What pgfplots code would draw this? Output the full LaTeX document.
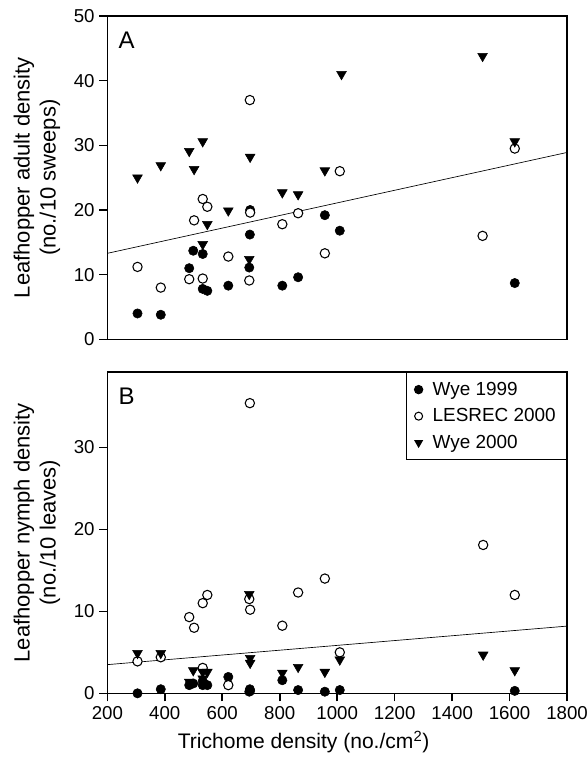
\documentclass[border=0pt]{standalone}
\usepackage{fontspec}
\setmainfont{Liberation Sans}
\usepackage{pgfplots}
\pgfplotsset{compat=1.18}

\pgfplotsset{
  leaf/.style={
    scale only axis,
    width=344.8pt,
    xmin=200, xmax=1800,
    axis line style={line width=1.2pt},
    tick style={line width=1.2pt, black},
    major tick length=6pt,
    tick align=outside,
    xtick pos=bottom, ytick pos=left,
    scaled ticks=false,
    /pgf/number format/assume math mode=true,
    /pgf/number format/1000 sep={},
    tick label style={font=\fontsize{14}{16}\selectfont},
    label style={font=\fontsize{16.5}{19.5}\selectfont},
    clip=false,
  },
  w99/.style={only marks, mark=*, mark size=3.5pt, mark options={draw=black, fill=black}},
  les/.style={only marks, mark=*, mark size=3.5pt, mark options={draw=black, fill=white, line width=0.8pt}},
  w00/.style={only marks, mark=triangle*, mark size=4.2pt, mark options={draw=black, fill=black, rotate=180}},
  fit/.style={black, line width=0.5pt, forget plot},
}

\begin{document}
\begin{tikzpicture}
\useasboundingbox (-80.5pt,-50pt) rectangle (359.8pt,520pt);

% panel A: adults
\begin{axis}[leaf,
  at={(0,265.5pt)}, anchor=south west,
  height=242.5pt,
  ymin=0, ymax=50,
  ytick={0,10,...,50},
  xtick=\empty,
  ylabel={Leafhopper adult density\\(no./10 sweeps)},
  ylabel style={align=center, at={(axis description cs:-0.153,0.5)}, anchor=center},
]
\addplot[w99] coordinates {
  (305,4.0) (386,3.8) (485,11.0) (499,13.7) (532,13.2) (532,7.8) (548,7.5)
  (621,8.3) (694,11.1) (696,16.2) (697,20.0) (809,8.3) (864,9.6) (957,19.2)
  (1009,16.8) (1618,8.7)
};
\addplot[les] coordinates {
  (305,11.2) (386,8.0) (485,9.3) (502,18.4) (532,21.7) (532,9.4) (548,20.5)
  (621,12.8) (694,9.1) (696,37.0) (697,19.6) (809,17.8) (864,19.5) (957,13.3)
  (1009,26.0) (1506,16.0) (1618,29.5)
};
\addplot[w00] coordinates {
  (305,25.0) (386,26.9) (485,29.1) (502,26.3) (532,30.6) (532,14.7) (548,17.8)
  (621,19.9) (694,12.4) (697,28.2) (809,22.7) (864,22.4) (957,26.1)
  (1015,41.0) (1506,43.8) (1618,30.6)
};
\addplot[fit] coordinates {(200,13.3) (1800,28.9)};
\node[font=\fontsize{18}{20}\selectfont] at (axis description cs:0.042,0.926) {A};
\end{axis}

% panel B: nymphs
\begin{axis}[leaf,
  at={(0,0)}, anchor=south west,
  height=241pt,
  ymin=0, ymax=39.2,
  ytick={0,10,20,30},
  xtick={200,400,...,1800},
  ylabel={Leafhopper nymph density\\(no./10 leaves)},
  ylabel style={align=center, at={(axis description cs:-0.153,0.5)}, anchor=center},
  xlabel={Trichome density (no./cm\textsuperscript{2})},
  xlabel style={at={(axis description cs:0.427,-0.152)}, anchor=center, font=\fontsize{15.8}{19}\selectfont},
  legend style={at={(1,1)}, anchor=north east, draw=black, line width=1pt,
    font=\fontsize{14.2}{16.5}\selectfont, row sep=4.5pt,
    inner xsep=6pt, inner ysep=5pt, cells={anchor=west}},
  legend image code/.code={\draw[mark repeat=2, mark phase=2, mark size=3pt, #1] plot coordinates {(0cm,0cm) (0.22cm,0cm) (0.44cm,0cm)};\path (0.5cm,0cm);},
]
\addplot[w99] coordinates {
  (305,0.0) (386,0.5) (485,1.0) (499,1.2) (532,1.0) (532,1.5) (548,1.0)
  (621,2.0) (694,0.2) (696,0.5) (697,0.3) (809,1.6) (864,0.4) (957,0.2)
  (1009,0.4) (1618,0.3)
};
\addplot[les] coordinates {
  (305,3.9) (386,4.4) (485,9.3) (502,8.0) (532,11.0) (532,3.1) (548,12.0)
  (621,1.0) (694,11.5) (696,35.4) (697,10.2) (809,8.25) (864,12.3) (957,14.0)
  (1009,5.0) (1508,18.1) (1618,12.0)
};
\addplot[w00] coordinates {
  (305,4.9) (386,4.9) (485,1.4) (499,2.8) (532,2.6) (532,1.8) (548,2.6)
  (694,12.1) (697,4.3) (697,3.7) (809,2.5) (864,3.2) (957,2.6)
  (1009,4.1) (1508,4.7) (1618,2.8)
};
\addplot[fit] coordinates {(200,3.5) (1800,8.2)};
\legend{Wye 1999, LESREC 2000, Wye 2000}
\node[font=\fontsize{18}{20}\selectfont] at (axis description cs:0.042,0.923) {B};
\end{axis}
\end{tikzpicture}
\end{document}
